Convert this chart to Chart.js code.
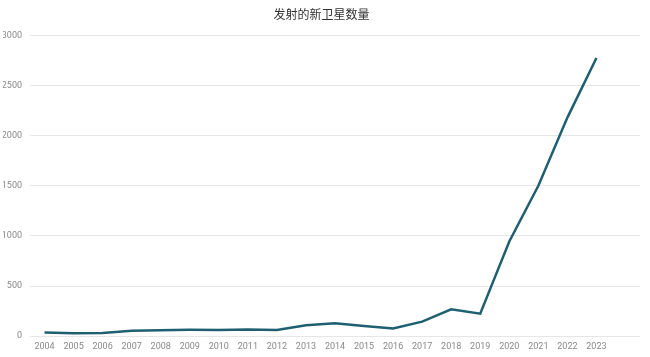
<!DOCTYPE html>
<html>
<head>
<meta charset="utf-8">
<script src="https://cdn.jsdelivr.net/npm/chart.js@4"></script>
<style>
html,body{margin:0;padding:0;background:#fff;}
#wrap{width:650px;height:357px;position:relative;}
</style>
</head>
<body>
<div id="wrap"><canvas id="c"></canvas></div>
<script>
const years = ['2004','2005','2006','2007','2008','2009','2010','2011','2012','2013','2014','2015','2016','2017','2018','2019','2020','2021','2022','2023'];
const satellites = [38, 30, 33, 55, 60, 64, 62, 66, 62, 110, 128, 102, 78, 145, 268, 225, 945, 1500, 2180, 2775];
const yTicks = [0, 500, 1000, 1500, 2000, 2500, 3000];
const titleText = '发射的新卫星数量';

const labels = years.concat(['']);
const values = satellites.concat([null]);

new Chart(document.getElementById('c'), {
  type: 'line',
  data: {
    labels: labels,
    datasets: [{
      data: values,
      borderColor: '#1f5f72',
      borderWidth: 2.5,
      pointRadius: 0,
      tension: 0,
      fill: false
    }]
  },
  options: {
    responsive: true,
    maintainAspectRatio: false,
    animation: false,
    devicePixelRatio: 1,
    layout: { padding: { left: 3, right: 10, top: 0, bottom: 0 } },
    plugins: {
      legend: { display: false },
      tooltip: { enabled: false },
      title: {
        display: true,
        text: titleText,
        color: '#333',
        font: { family: '"Noto Sans CJK SC", sans-serif', size: 12, weight: 'normal' },
        padding: { top: 7, bottom: 14 }
      }
    },
    scales: {
      x: {
        offset: true,
        grid: { display: false, drawTicks: false },
        border: { display: false },
        ticks: {
          color: '#888',
          font: { family: 'Roboto, sans-serif', size: 9 },
          maxRotation: 0,
          autoSkip: false,
          padding: 5
        }
      },
      y: {
        min: 0,
        max: 3000,
        afterBuildTicks: (axis) => { axis.ticks = yTicks.map(v => ({ value: v })); },
        afterFit: (axis) => { axis.width = 27; },
        grid: { color: '#e6e6e6', drawTicks: false, lineWidth: 1 },
        border: { display: false },
        ticks: {
          color: '#888',
          font: { family: 'Roboto, sans-serif', size: 9 },
          padding: 8,
          callback: (v) => String(v)
        }
      }
    }
  }
});
</script>
</body>
</html>
